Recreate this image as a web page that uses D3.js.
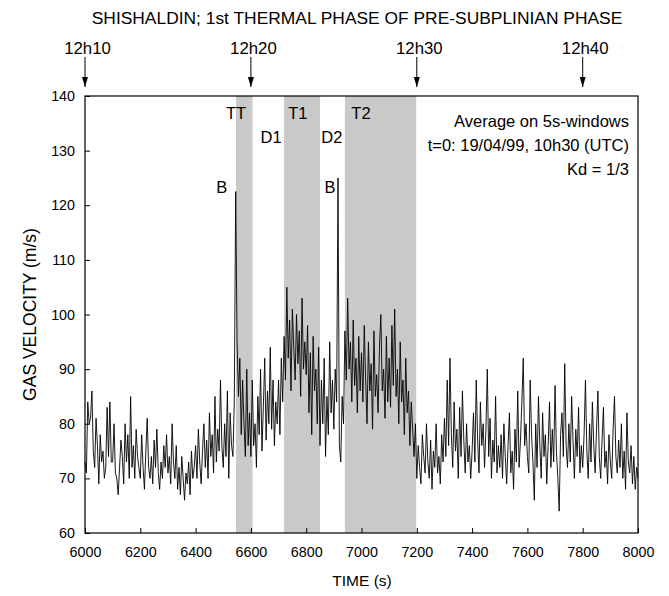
<!DOCTYPE html>
<html>
<head>
<meta charset="utf-8">
<script src="https://cdn.jsdelivr.net/npm/d3@7"></script>
<style>
  html, body { margin: 0; padding: 0; background: #fff; }
  svg { display: block; font-family: "Liberation Sans", Arial, Helvetica, sans-serif; }
</style>
</head>
<body>
<svg id="chart" width="669" height="596"></svg>
<script>
// Gas velocity averaged on 5 s windows, starting at t = 6000 s
const tStart = 6000;
const tStep = 5;
const velocity = [
  73, 71, 84, 80, 81, 86, 75, 72, 81, 76, 69, 78, 73, 75, 70, 72, 83, 74, 84, 73,
  73, 80, 71, 70, 67, 72, 77, 74, 69, 80, 73, 78, 70, 85, 72, 76, 70, 79, 74, 72,
  70, 78, 72, 68, 75, 81, 72, 70, 74, 69, 77, 72, 79, 71, 68, 73, 70, 76, 72, 78,
  71, 74, 69, 80, 73, 70, 76, 68, 72, 67, 74, 70, 66, 71, 69, 73, 67, 75, 70, 72,
  76, 70, 79, 73, 69, 75, 80, 72, 77, 70, 82, 74, 78, 71, 85, 73, 79, 75, 88, 76,
  72, 80, 74, 86, 70, 82, 76, 74, 84, 122.5, 95, 85, 92, 78, 88, 80, 74, 90, 76, 82,
  74, 88, 76, 80, 72, 85, 78, 90, 75, 83, 92, 77, 86, 80, 94, 79, 88, 76, 84, 80,
  88, 78, 92, 84, 96, 88, 105, 92, 99, 86, 101, 94, 88, 100, 91, 97, 85, 103, 90, 95,
  89, 98, 82, 93, 78, 96, 86, 90, 80, 94, 76, 88, 80, 92, 74, 85, 78, 95, 82, 88,
  79, 90, 84, 125, 76, 73, 85, 80, 97, 88, 103, 90, 95, 84, 99, 87, 92, 82, 96, 86,
  93, 84, 98, 88, 80, 95, 86, 91, 79, 97, 85, 89, 82, 94, 100, 86, 90, 81, 96, 84,
  92, 83, 98, 87, 101, 85, 90, 80, 95, 84, 88, 78, 92, 82, 86, 76, 84, 79, 74, 80,
  70, 76, 72, 69, 78, 74, 71, 80, 73, 70, 77, 68, 75, 72, 80, 71, 74, 69, 78, 73,
  81, 74, 88, 76, 92, 78, 72, 84, 75, 79, 70, 83, 74, 86, 77, 71, 80, 73, 76, 70,
  75, 82, 73, 88, 77, 71, 84, 76, 80, 72, 79, 90, 74, 81, 70, 77, 73, 85, 71, 76,
  72, 78, 70, 80, 74, 69, 76, 82, 71, 75, 68, 79, 73, 86, 72, 77, 84, 92, 76, 80,
  74, 71, 88, 78, 73, 66, 80, 72, 85, 76, 70, 82, 74, 78, 69, 76, 84, 72, 79, 73,
  87, 75, 70, 64, 78, 82, 74, 91, 76, 72, 80, 73, 85, 77, 70, 79, 74, 83, 71, 76,
  72, 78, 88, 75, 70, 80, 73, 84, 76, 71, 79, 86, 74, 70, 77, 83, 72, 75, 69, 78,
  73, 70, 79, 85, 74, 71, 77, 72, 80, 70, 75, 68, 82, 73, 71, 76, 69, 74, 68, 72, 70
];

// Thermal phases (shaded)
const phaseNames = ["TT", "T1", "T2"];
const phaseStart = [6546, 6720, 6940];
const phaseEnd   = [6606, 6850, 7198];

// Phase labels
const labelText = ["TT", "D1", "T1", "D2", "T2", "B", "B"];
const labelTime = [6546, 6673, 6770, 6893, 6998, 6495, 6886];
const labelVel  = [136.9, 132.5, 136.9, 132.5, 136.9, 123.3, 123.3];

// Clock time markers
const clockLabels = ["12h10", "12h20", "12h30", "12h40"];
const clockTimes  = [6000, 6600, 7200, 7800];

const xTicks = [6000, 6200, 6400, 6600, 6800, 7000, 7200, 7400, 7600, 7800, 8000];
const yTicks = [60, 70, 80, 90, 100, 110, 120, 130, 140];

const notes = ["Average on 5s-windows", "t=0: 19/04/99, 10h30 (UTC)", "Kd = 1/3"];

const svg = d3.select("#chart");
const plot = { left: 85, right: 638, top: 96, bottom: 533 };

const x = d3.scaleLinear().domain([6000, 8000]).range([plot.left, plot.right]);
const y = d3.scaleLinear().domain([60, 140]).range([plot.bottom, plot.top]);

// shaded phases
svg.append("g").selectAll("rect")
  .data(phaseNames)
  .join("rect")
  .attr("x", (d, i) => x(phaseStart[i]))
  .attr("y", plot.top)
  .attr("width", (d, i) => x(phaseEnd[i]) - x(phaseStart[i]))
  .attr("height", plot.bottom - plot.top)
  .attr("fill", "#c9c9c9");

// velocity trace
const points = velocity.map((v, i) => [tStart + i * tStep, v]);
svg.append("path")
  .datum(points)
  .attr("fill", "none")
  .attr("stroke", "#000")
  .attr("stroke-width", 0.9)
  .attr("stroke-linejoin", "miter")
  .attr("d", d3.line().x(d => x(d[0])).y(d => y(d[1])));

// axes with inward ticks
const xAxis = d3.axisBottom(x).tickValues(xTicks).tickSizeInner(-5).tickSizeOuter(0).tickPadding(14).tickFormat(d3.format("d"));
const gx = svg.append("g").attr("transform", `translate(0,${plot.bottom})`).call(xAxis);
const yAxis = d3.axisLeft(y).tickValues(yTicks).tickSizeInner(-5).tickSizeOuter(0).tickPadding(10).tickFormat(d3.format("d"));
const gy = svg.append("g").attr("transform", `translate(${plot.left},0)`).call(yAxis);
[gx, gy].forEach(g => {
  g.select(".domain").remove();
  g.selectAll("line").attr("stroke", "#000").attr("stroke-width", 1);
  g.selectAll("text").attr("font-size", 14.3).attr("fill", "#000")
    .attr("font-family", "'Liberation Sans', Arial, sans-serif");
});

// frame
svg.append("rect")
  .attr("x", plot.left).attr("y", plot.top)
  .attr("width", plot.right - plot.left).attr("height", plot.bottom - plot.top)
  .attr("fill", "none").attr("stroke", "#000").attr("stroke-width", 1.2);

// phase labels
svg.append("g").selectAll("text")
  .data(labelText)
  .join("text")
  .attr("x", (d, i) => x(labelTime[i]))
  .attr("y", (d, i) => y(labelVel[i]))
  .attr("text-anchor", "middle")
  .attr("dominant-baseline", "central")
  .attr("font-size", 16.5)
  .text(d => d);

// notes (top right)
svg.append("g").selectAll("text")
  .data(notes)
  .join("text")
  .attr("x", plot.right - 9)
  .attr("y", (d, i) => 127 + i * 24)
  .attr("text-anchor", "end")
  .attr("font-size", 16.5)
  .text(d => d);

// clock arrows
svg.append("defs").append("marker")
  .attr("id", "head")
  .attr("viewBox", "0 0 10 10")
  .attr("refX", 10).attr("refY", 5)
  .attr("markerWidth", 10).attr("markerHeight", 10)
  .attr("markerUnits", "userSpaceOnUse")
  .attr("orient", "auto")
  .append("path").attr("d", "M0,2 L10,5 L0,8 Z").attr("fill", "#000");

const clocks = svg.append("g").selectAll("g")
  .data(clockLabels)
  .join("g")
  .attr("transform", (d, i) => `translate(${x(clockTimes[i])},0)`);
clocks.append("line")
  .attr("x1", 0).attr("x2", 0).attr("y1", 57).attr("y2", 87)
  .attr("stroke", "#000").attr("stroke-width", 1)
  .attr("marker-end", "url(#head)");
clocks.append("text")
  .attr("x", 2.5).attr("y", 54)
  .attr("text-anchor", "middle")
  .attr("font-size", 16.8)
  .text(d => d);

// title and axis titles
svg.append("text")
  .attr("x", 357).attr("y", 24)
  .attr("text-anchor", "middle")
  .attr("font-size", 17.4)
  .text("SHISHALDIN; 1st THERMAL PHASE OF PRE-SUBPLINIAN PHASE");

svg.append("text")
  .attr("x", 362).attr("y", 586)
  .attr("text-anchor", "middle")
  .attr("font-size", 15.5)
  .text("TIME (s)");

svg.append("text")
  .attr("transform", `translate(36,${(plot.top + plot.bottom) / 2}) rotate(-90)`)
  .attr("text-anchor", "middle")
  .attr("font-size", 17.5)
  .text("GAS VELOCITY (m/s)");
</script>
</body>
</html>
